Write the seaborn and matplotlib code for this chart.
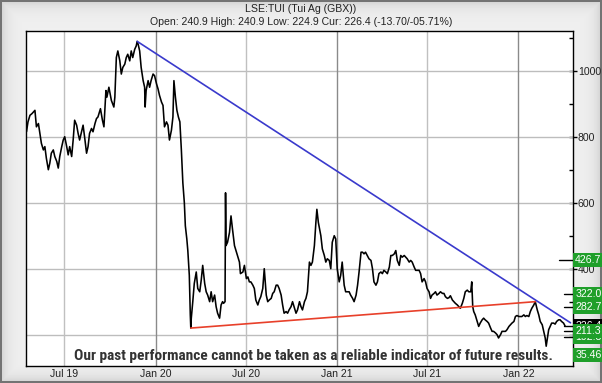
#Share price chart LSE:TUI with trend lines

import numpy as np
import pandas as pd
import matplotlib
matplotlib.use("Agg")
import matplotlib.pyplot as plt
import matplotlib.transforms as mtransforms
from matplotlib import font_manager
import seaborn as sns

#price readings (GBX)
dates = [
    "2019-04-16", "2019-04-19", "2019-04-23", "2019-04-27", "2019-05-03", "2019-05-06", "2019-05-10", "2019-05-13",
    "2019-05-16", "2019-05-20", "2019-05-23", "2019-05-26", "2019-05-30", "2019-06-02", "2019-06-05", "2019-06-09",
    "2019-06-12", "2019-06-16", "2019-06-19", "2019-06-22", "2019-06-26", "2019-06-29", "2019-07-02", "2019-07-06",
    "2019-07-09", "2019-07-12", "2019-07-16", "2019-07-19", "2019-07-22", "2019-07-26", "2019-07-29", "2019-08-01",
    "2019-08-05", "2019-08-08", "2019-08-11", "2019-08-15", "2019-08-18", "2019-08-21", "2019-08-25", "2019-08-28",
    "2019-09-01", "2019-09-04", "2019-09-07", "2019-09-12", "2019-09-16", "2019-09-19", "2019-09-23", "2019-09-25",
    "2019-09-29", "2019-10-04", "2019-10-09", "2019-10-11", "2019-10-14", "2019-10-17", "2019-10-21", "2019-10-24",
    "2019-10-27", "2019-10-31", "2019-11-03", "2019-11-06", "2019-11-10", "2019-11-13", "2019-11-16", "2019-11-20",
    "2019-11-23", "2019-11-25", "2019-11-27", "2019-11-30", "2019-12-03", "2019-12-07", "2019-12-10", "2019-12-11",
    "2019-12-13", "2019-12-17", "2019-12-20", "2019-12-23", "2019-12-27", "2019-12-30", "2020-01-03", "2020-01-06",
    "2020-01-09", "2020-01-13", "2020-01-16", "2020-01-19", "2020-01-23", "2020-01-26", "2020-01-29", "2020-02-02",
    "2020-02-05", "2020-02-07", "2020-02-10", "2020-02-13", "2020-02-16", "2020-02-19", "2020-02-22", "2020-02-25",
    "2020-02-28", "2020-03-01", "2020-03-04", "2020-03-06", "2020-03-09", "2020-03-11", "2020-03-12", "2020-03-13",
    "2020-03-16", "2020-03-19", "2020-03-23", "2020-03-26", "2020-03-30", "2020-04-02", "2020-04-05", "2020-04-09",
    "2020-04-12", "2020-04-15", "2020-04-19", "2020-04-22", "2020-04-25", "2020-04-29", "2020-05-02", "2020-05-05",
    "2020-05-09", "2020-05-12", "2020-05-15", "2020-05-17", "2020-05-20", "2020-05-21", "2020-05-22", "2020-05-25",
    "2020-05-29", "2020-06-01", "2020-06-04", "2020-06-08", "2020-06-11", "2020-06-14", "2020-06-18", "2020-06-20",
    "2020-06-25", "2020-06-28", "2020-07-02", "2020-07-05", "2020-07-08", "2020-07-11", "2020-07-15", "2020-07-18",
    "2020-07-21", "2020-07-25", "2020-07-28", "2020-07-31", "2020-08-04", "2020-08-07", "2020-08-11", "2020-08-14",
    "2020-08-17", "2020-08-21", "2020-08-24", "2020-08-27", "2020-08-31", "2020-09-03", "2020-09-06", "2020-09-10",
    "2020-09-13", "2020-09-16", "2020-09-20", "2020-09-23", "2020-09-26", "2020-09-30", "2020-10-03", "2020-10-06",
    "2020-10-10", "2020-10-13", "2020-10-17", "2020-10-20", "2020-10-23", "2020-10-27", "2020-10-30", "2020-11-02",
    "2020-11-06", "2020-11-09", "2020-11-12", "2020-11-16", "2020-11-19", "2020-11-21", "2020-11-24", "2020-11-29",
    "2020-12-02", "2020-12-06", "2020-12-09", "2020-12-12", "2020-12-16", "2020-12-19", "2020-12-22", "2020-12-26",
    "2020-12-29", "2021-01-01", "2021-01-05", "2021-01-08", "2021-01-11", "2021-01-15", "2021-01-18", "2021-01-22",
    "2021-01-25", "2021-01-28", "2021-02-01", "2021-02-04", "2021-02-08", "2021-02-11", "2021-02-14", "2021-02-18",
    "2021-02-21", "2021-02-24", "2021-02-27", "2021-03-06", "2021-03-10", "2021-03-13", "2021-03-16", "2021-03-20",
    "2021-03-23", "2021-03-26", "2021-03-30", "2021-04-02", "2021-04-05", "2021-04-09", "2021-04-12", "2021-04-16",
    "2021-04-19", "2021-04-22", "2021-04-26", "2021-04-29", "2021-05-02", "2021-05-06", "2021-05-09", "2021-05-12",
    "2021-05-16", "2021-05-19", "2021-05-22", "2021-05-26", "2021-05-29", "2021-06-01", "2021-06-05", "2021-06-08",
    "2021-06-11", "2021-06-15", "2021-06-18", "2021-06-21", "2021-06-25", "2021-06-28", "2021-07-01", "2021-07-05",
    "2021-07-08", "2021-07-11", "2021-07-15", "2021-07-18", "2021-07-21", "2021-07-25", "2021-07-28", "2021-08-01",
    "2021-08-04", "2021-08-07", "2021-08-11", "2021-08-14", "2021-08-17", "2021-08-21", "2021-08-24", "2021-08-27",
    "2021-08-31", "2021-09-03", "2021-09-06", "2021-09-10", "2021-09-13", "2021-09-16", "2021-09-20", "2021-09-23",
    "2021-09-27", "2021-09-29", "2021-10-01", "2021-10-03", "2021-10-06", "2021-10-10", "2021-10-13", "2021-10-16",
    "2021-10-20", "2021-10-23", "2021-10-26", "2021-10-30", "2021-11-02", "2021-11-06", "2021-11-09", "2021-11-12",
    "2021-11-16", "2021-11-19", "2021-11-22", "2021-11-26", "2021-11-29", "2021-12-02", "2021-12-06", "2021-12-09",
    "2021-12-13", "2021-12-16", "2021-12-19", "2021-12-23", "2021-12-26", "2021-12-29", "2022-01-02", "2022-01-05",
    "2022-01-08", "2022-01-12", "2022-01-15", "2022-01-18", "2022-01-22", "2022-01-25", "2022-01-28", "2022-02-01",
    "2022-02-04", "2022-02-08", "2022-02-11", "2022-02-14", "2022-02-18", "2022-02-21", "2022-02-24", "2022-02-26",
    "2022-03-01", "2022-03-03", "2022-03-06", "2022-03-09", "2022-03-13", "2022-03-16", "2022-03-19", "2022-03-23",
    "2022-03-26", "2022-03-29", "2022-04-02", "2022-04-05",
]
prices = [
    815, 845, 865, 870, 880, 830, 840, 810,
    780, 760, 770, 735, 700, 720, 750, 760,
    740, 725, 705, 740, 770, 790, 800, 770,
    745, 770, 740, 790, 850, 835, 810, 790,
    815, 835, 800, 750, 770, 810, 825, 815,
    840, 855, 860, 885, 850, 830, 940, 920,
    950, 910, 890, 920, 1040, 1060, 1030, 990,
    1010, 1020, 1040, 1050, 1030, 1060, 1040, 1065,
    1075, 1089, 1080, 1060, 1010, 970, 950, 890,
    940, 970, 950, 970, 990, 985, 960, 945,
    925, 905, 895, 830, 845, 835, 790, 820,
    860, 970, 920, 880, 860, 845, 760, 660,
    600, 530, 490, 455, 380, 260, 220, 250,
    300, 355, 390, 340, 330, 365, 410, 355,
    330, 320, 300, 330, 300, 320, 285, 265,
    250, 290, 300, 295, 300, 630, 470, 480,
    510, 560, 520, 470, 455, 440, 420, 385,
    390, 410, 370, 375, 360, 360, 350, 340,
    305, 290, 305, 315, 340, 400, 320, 300,
    305, 310, 325, 330, 350, 350, 340, 320,
    290, 265, 270, 265, 275, 285, 300, 285,
    265, 275, 300, 285, 275, 300, 310, 330,
    420, 410, 420, 470, 540, 580, 540, 500,
    460, 440, 420, 430, 425, 400, 480, 500,
    490, 400, 360, 380, 420, 350, 330, 330,
    330, 320, 310, 300, 320, 350, 390, 450,
    450, 445, 450, 430, 425, 400, 360, 350,
    360, 385, 390, 385, 395, 390, 385, 405,
    440, 440, 445, 455, 425, 410, 440, 435,
    440, 435, 430, 420, 425, 420, 405, 395,
    395, 395, 385, 360, 370, 360, 340, 330,
    310, 320, 325, 330, 320, 325, 330, 325,
    325, 315, 310, 312, 318, 305, 300, 295,
    290, 285, 280, 295, 310, 330, 335, 330,
    330, 360, 285, 270, 260, 240, 225, 235,
    245, 250, 245, 240, 235, 220, 210, 210,
    205, 200, 190, 200, 210, 210, 210, 215,
    225, 230, 235, 240, 255, 258, 255, 255,
    255, 260, 255, 258, 255, 270, 280, 290,
    300, 275, 260, 240, 230, 210, 190, 165,
    195, 215, 225, 235, 235, 232, 240, 245,
    245, 240, 235, 226.4,
]

#trend lines
high_line_dates = ["2019-11-25", "2022-04-16"]
high_line_vals = [1089, 236]
low_line_dates = ["2020-03-12", "2022-02-04"]
low_line_vals = [220, 300]

#price levels on the right
level_labels = ["35.46", "226.4", "192.3", "211.3", "282.7", "322.0", "426.7"]
level_vals = [35.46, 226.4, 192.3, 211.3, 282.7, 322.0, 426.7]
level_colors = ["#1f9f2a", "#000000", "#1f9f2a", "#1f9f2a", "#1f9f2a", "#1f9f2a", "#1f9f2a"]

x_ticks = ["2019-07-01", "2020-01-01", "2020-07-01", "2021-01-01", "2021-07-01", "2022-01-01"]
x_labels = ["Jul 19", "Jan 20", "Jul 20", "Jan 21", "Jul 21", "Jan 22"]
y_ticks = [200, 400, 600, 800, 1000]

disclaimer = "Our past performance cannot be taken as a reliable indicator of future results."

df = pd.DataFrame({"date": pd.to_datetime(dates), "price": prices})

sns.set_style("white")
plt.rcParams["font.family"] = ["Liberation Sans", "DejaVu Sans"]


def first_font(names):
    for n in names:
        try:
            font_manager.findfont(font_manager.FontProperties(family=n, weight="bold"),
                                  fallback_to_default=False)
            return n
        except ValueError:
            pass
    return "Liberation Sans"


W, H = 602, 383
fig = plt.figure(figsize=(W / 100, H / 100), dpi=100)

#bevelled grey panel behind everything
bg = fig.add_axes([0, 0, 1, 1])
yy, xx = np.mgrid[0:H, 0:W]
d = np.minimum.reduce([xx, W - 1 - xx, yy, H - 1 - yy]).astype(float)
shade = 0.94 - 0.13 * np.exp(-d / 7.0)
shade[d < 1.5] = 0.45
bg.imshow(shade, cmap="gray", vmin=0, vmax=1, aspect="auto", interpolation="nearest")
bg.axis("off")

L, R, T, B = 26, 573, 30.5, 366
ax = fig.add_axes([L / W, 1 - B / H, (R - L) / W, (B - T) / H])
ax.set_facecolor("white")

ax.set_xlim(pd.Timestamp("2019-04-15"), pd.Timestamp("2022-04-21"))
ax.set_ylim(105, 1122)

#grid
for t in y_ticks:
    ax.axhline(t, color="#bdbdbd", lw=1, zorder=1)
for t in x_ticks:
    c = "#8a8a8a" if t.endswith("01-01") else "#c0c0c0"
    ax.axvline(pd.Timestamp(t), color=c, lw=1, zorder=1)

sns.lineplot(data=df, x="date", y="price", ax=ax, color="black", lw=1.15,
             estimator=None, zorder=3)

ax.plot(pd.to_datetime(high_line_dates), high_line_vals, color="#3a3acc", lw=1.2, zorder=4)
ax.plot(pd.to_datetime(low_line_dates), low_line_vals, color="#e8402a", lw=1.2, zorder=4)

ax.set_xlabel("")
ax.set_ylabel("")
ax.set_xticks(pd.to_datetime(x_ticks))
ax.set_xticklabels(x_labels, fontsize=7.6, color="#222222")
ax.tick_params(axis="x", length=0, pad=2)

ax.yaxis.tick_right()
ax.set_yticks(y_ticks)
ax.set_yticklabels([str(t) for t in y_ticks], fontsize=7.6, color="#222222")
ax.set_yticks([300, 500, 700, 900, 1100], minor=True)
ax.tick_params(axis="y", which="major", direction="inout", length=6, width=1, pad=0.5, color="black")
ax.tick_params(axis="y", which="minor", direction="in", length=3, width=1, color="black")

for s in ax.spines.values():
    s.set_color("black")
    s.set_linewidth(1)

#level markers and boxes on the right axis
blend = mtransforms.blended_transform_factory(ax.transAxes, ax.transData)
ymin, ymax = ax.get_ylim()
for lab, v, c in zip(level_labels, level_vals, level_colors):
    pos = v if v > ymin + 30 else ymin + 0.033 * (ymax - ymin)
    tick_len = 0.026 if lab == "426.7" else 0.016
    if v > ymin:
        ax.plot([1 - tick_len, 1.0], [v, v], transform=blend, color="black", lw=1,
                clip_on=False, zorder=5)
    ax.text(1.004, pos, lab, transform=blend, ha="left", va="center", fontsize=7.6,
            color="white", clip_on=False, zorder=6,
            bbox=dict(boxstyle="square,pad=0.2", fc=c, ec="none"))

#disclaimer in a narrow bold face, sized to span the same width as the original
dfont = first_font(["Roboto Condensed", "Liberation Sans Narrow", "Open Sans Condensed",
                    "Noto Sans Condensed", "Liberation Sans"])
txt = ax.text(0.525, 0.03, disclaimer, transform=ax.transAxes, ha="center", va="center",
              fontsize=12, fontweight="bold", color="#333333", family=dfont, zorder=6)
renderer = fig.canvas.get_renderer()
wpx = txt.get_window_extent(renderer).width
txt.set_fontsize(min(12, 12 * 480 / wpx))

fig.text(0.5, 1 - 8.5 / H, "LSE:TUI (Tui Ag (GBX))", ha="center", va="center",
         fontsize=7.6, color="#222222")
fig.text(0.5, 1 - 22 / H, "Open: 240.9 High: 240.9 Low: 224.9 Cur: 226.4 (-13.70/-05.71%)",
         ha="center", va="center", fontsize=7.6, color="#222222")

fig.savefig("out.png", dpi=100)
